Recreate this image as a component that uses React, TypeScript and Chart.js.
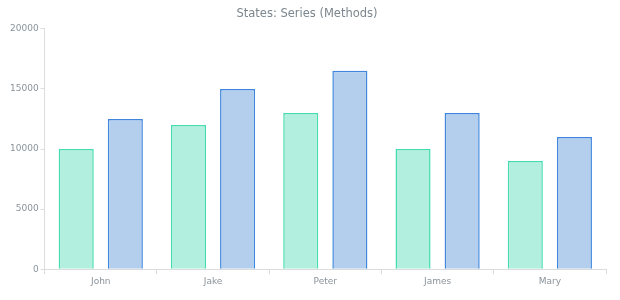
import React, { useEffect, useRef } from "react";
import { Chart, registerables } from "chart.js";

Chart.register(...registerables);

const categories = ["John", "Jake", "Peter", "James", "Mary"];
const series1 = [10000, 12000, 13000, 10000, 9000];
const series2 = [12500, 15000, 16500, 13000, 11000];
const titleText = "States: Series (Methods)";

export default function App() {
  const ref = useRef<HTMLCanvasElement>(null);
  useEffect(() => {
    if (!ref.current) return;
    const font = "'DejaVu Sans', Verdana, sans-serif";
    const chart = new Chart(ref.current, {
      type: "bar",
      data: {
        labels: categories,
        datasets: [
          {
            label: "Series 1",
            data: series1,
            backgroundColor: "#b3efdf",
            borderColor: "#45dcaf",
            borderWidth: 1.5,
            categoryPercentage: 0.875,
            barPercentage: 0.714,
          },
          {
            label: "Series 2",
            data: series2,
            backgroundColor: "#b4cfee",
            borderColor: "#3f86dc",
            borderWidth: 1.5,
            categoryPercentage: 0.875,
            barPercentage: 0.714,
          },
        ],
      },
      options: {
        animation: false,
        responsive: true,
        maintainAspectRatio: false,
        layout: { padding: { left: 8, right: 14, top: 0, bottom: 11 } },
        plugins: {
          legend: { display: false },
          tooltip: { enabled: false },
          title: {
            display: true,
            text: titleText,
            color: "#7c868e",
            font: { family: font, size: 11.5, weight: "normal" },
            padding: { top: 7, bottom: 8 },
          },
        },
        scales: {
          x: {
            grid: {
              display: true,
              drawOnChartArea: false,
              offset: true,
              tickLength: 5,
              color: "#dcdcdc",
            },
            border: { color: "#dcdcdc" },
            ticks: {
              color: "#8a939a",
              font: { family: font, size: 9 },
              padding: 2,
            },
          },
          y: {
            min: 0,
            max: 20000,
            grid: {
              display: true,
              drawOnChartArea: false,
              tickLength: 4,
              color: "#dcdcdc",
            },
            border: { color: "#dcdcdc" },
            ticks: {
              stepSize: 5000,
              color: "#8a939a",
              font: { family: font, size: 9 },
              padding: 2,
              callback: (v: any) => String(v),
            },
          },
        },
      },
    });
    return () => chart.destroy();
  }, []);
  return (
    <div style={{ position: "fixed", left: 0, top: 0, width: 620, height: 300, background: "#fff" }}>
      <canvas ref={ref} />
    </div>
  );
}
